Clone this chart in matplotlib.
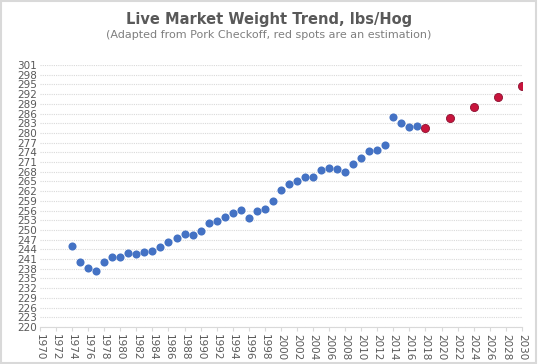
import matplotlib.pyplot as plt
from matplotlib.patches import Rectangle

years = list(range(1974, 2019))
weights = [245.2, 240.1, 238.1, 237.3, 240.1, 241.8, 241.8, 242.8, 242.6, 243.3,
           243.6, 244.8, 246.2, 247.6, 248.9, 248.5, 249.7, 252.1, 252.8, 254.1,
           255.3, 256.2, 253.8, 256.0, 256.4, 258.9, 262.4, 264.1, 265.0, 266.3,
           266.5, 268.5, 269.1, 268.8, 268.0, 270.4, 272.2, 274.5, 274.8, 276.2,
           284.9, 283.1, 281.8, 282.2, 281.5]

est_years = [2018, 2021, 2024, 2027, 2030]
est_weights = [281.5, 284.6, 288.0, 291.2, 294.4]

blue = '#4472C4'
red = '#C8143C'
gray = '#595959'

fig = plt.figure(figsize=(5.38, 3.64), dpi=100)
fig.patches.append(Rectangle((0.002, 0.003), 0.995, 0.993, transform=fig.transFigure,
                             fill=False, edgecolor='#D9D9D9', linewidth=1.5))
ax = fig.add_axes([0.0743, 0.1016, 0.8957, 0.7198])

ax.scatter(years[:-1], weights[:-1], s=34, color=blue, zorder=3, linewidths=0)
ax.scatter(est_years, est_weights, s=34, color=red, edgecolors='#8B1030',
           linewidths=0.6, zorder=4)

ax.set_xlim(1970, 2030)
ax.set_ylim(220, 301)
ax.set_yticks(range(220, 302, 3))
ax.set_xticks(range(1970, 2031, 2))
ax.tick_params(axis='y', length=0, labelsize=7.5, labelcolor=gray, pad=2)
ax.tick_params(axis='x', length=3, color='#D9D9D9', labelsize=7.5, labelcolor=gray,
               labelrotation=-90, pad=2)
for lbl in ax.get_xticklabels():
    lbl.set_va('top')
    lbl.set_ha('center')
ax.grid(axis='y', color='#D9D9D9', linestyle=(0, (1, 1)), linewidth=0.8)
ax.set_axisbelow(True)
for side in ['left', 'right', 'top']:
    ax.spines[side].set_visible(False)
ax.spines['bottom'].set_color('#D9D9D9')

fig.text(0.5, 0.935, 'Live Market Weight Trend, lbs/Hog', ha='center',
         fontsize=10.5, fontweight='bold', color=gray)
fig.text(0.5, 0.895, '(Adapted from Pork Checkoff, red spots are an estimation)',
         ha='center', fontsize=8, color='#7F7F7F')

fig.savefig('out.png', dpi=100)
